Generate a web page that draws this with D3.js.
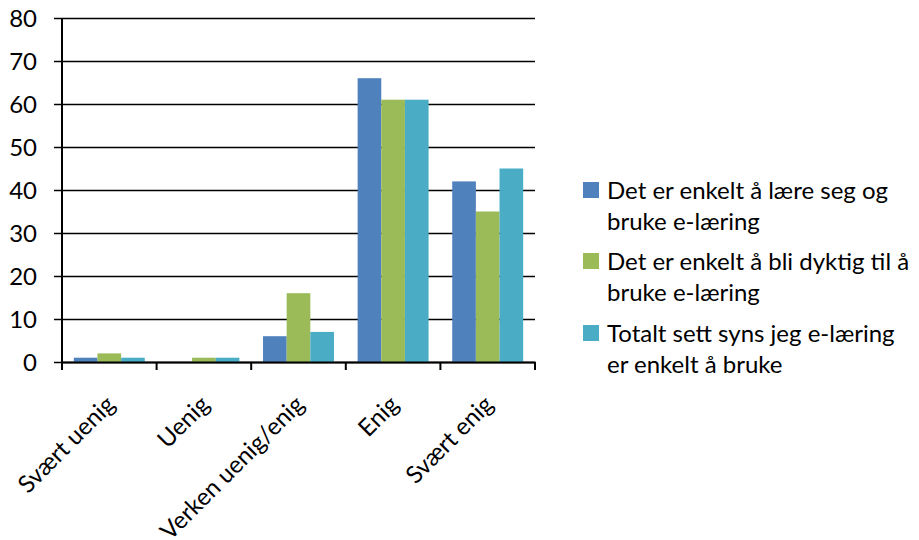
<!DOCTYPE html>
<html><head><meta charset="utf-8">
<script src="https://cdn.jsdelivr.net/npm/d3@7"></script>
<style>body{margin:0;background:#fff;} svg{display:block;} text{font-family:Lato, "Open Sans", sans-serif;fill:#000;}</style>
</head><body>
<svg id="c" width="919" height="540"></svg>
<script>
const categories = ["Svært uenig","Uenig","Verken uenig/enig","Enig","Svært enig"];
const seriesNames = [
  ["Det er enkelt å lære seg og","bruke e-læring"],
  ["Det er enkelt å bli dyktig til å","bruke e-læring"],
  ["Totalt sett syns jeg e-læring","er enkelt å bruke"]
];
const series1 = [1, 0, 6, 66, 42];
const series2 = [2, 1, 16, 61, 35];
const series3 = [1, 1, 7, 61, 45];
const yTicks = [0,10,20,30,40,50,60,70,80];
const colors = ["#4F81BD","#9BBB59","#4BACC6"];
const allSeries = [series1, series2, series3];

const svg = d3.select("#c");
const pL = 62, pR = 535, pT = 18, pB = 362;
const x = d3.scaleBand().domain(categories).range([pL, pR]).paddingInner(0).paddingOuter(0);
const xs = d3.scaleBand().domain([0,1,2]).range([0, x.bandwidth()]).paddingInner(0).paddingOuter(0.5);
const y = d3.scaleLinear().domain([0,80]).range([pB, pT]);

// gridlines + y ticks
const ya = d3.axisLeft(y).tickValues(yTicks).tickSize(-(pR-pL)).tickPadding(25).tickSizeOuter(0);
const gy = svg.append("g").attr("transform",`translate(${pL},0)`).call(ya);
gy.select(".domain").remove();
gy.selectAll(".tick line").attr("stroke","#000").attr("stroke-width",1.6).attr("x1",-8);
gy.selectAll(".tick text").style("font-size","24px").attr("dy","0.36em");

// bars
categories.forEach((c,i)=>{
  allSeries.forEach((s,j)=>{
    svg.append("rect")
      .attr("x", x(c)+xs(j))
      .attr("width", xs.bandwidth())
      .attr("y", y(s[i]))
      .attr("height", pB - y(s[i]))
      .attr("fill", colors[j]);
  });
});

// y axis line
svg.append("line").attr("x1",pL).attr("x2",pL).attr("y1",pT).attr("y2",pB)
  .attr("stroke","#000").attr("stroke-width",2);
// x axis
const xa = d3.axisBottom(x).tickSize(0).tickFormat("");
const gx = svg.append("g").attr("transform",`translate(0,${pB})`).call(xa);
gx.select(".domain").attr("stroke","#000").attr("stroke-width",2);
// category boundary ticks
const bounds = categories.map(c=>x(c)).concat([x(categories[categories.length-1])+x.bandwidth()]);
svg.selectAll(".bt").data(bounds).enter().append("line")
  .attr("x1",d=>d).attr("x2",d=>d).attr("y1",pB).attr("y2",pB+8)
  .attr("stroke","#000").attr("stroke-width",2);
// x labels
svg.selectAll(".xl").data(categories).enter().append("text")
  .attr("transform",d=>`translate(${x(d)+x.bandwidth()/2+7},${pB+44}) rotate(-45)`)
  .attr("text-anchor","end").style("font-size","24px").text(d=>d);

// legend
const legY = [199, 270, 342];
seriesNames.forEach((lines,j)=>{
  svg.append("rect").attr("x",583).attr("y",legY[j]-17).attr("width",16).attr("height",16).attr("fill",colors[j]);
  lines.forEach((t,k)=>{
    svg.append("text").attr("x",607).attr("y",legY[j]+k*31).style("font-size","24px").text(t);
  });
});
</script>
</body></html>
